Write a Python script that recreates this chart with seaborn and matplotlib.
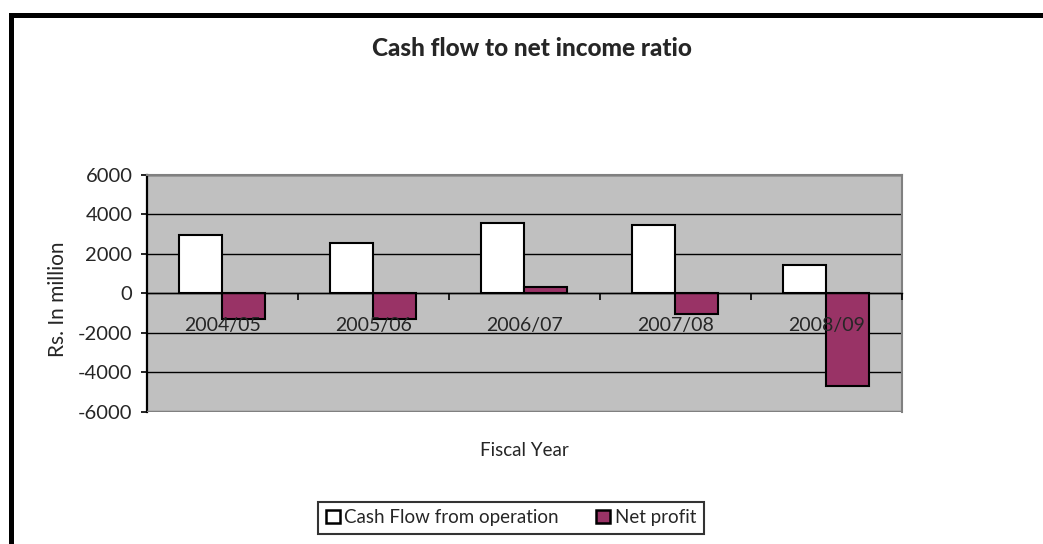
import pandas as pd
import matplotlib.pyplot as plt
from matplotlib.lines import Line2D
import seaborn as sns

sns.set_style('white')
plt.rcParams['font.family'] = ['Lato', 'DejaVu Sans']
plt.rcParams['axes.unicode_minus'] = False

# values (Rs. in million)
years = ["2004/05", "2005/06", "2006/07", "2007/08", "2008/09"]
cash_flow = [2930, 2540, 3570, 3440, 1440]
net_profit = [-1330, -1300, 290, -1050, -4690]
series_names = ["Cash Flow from operation", "Net profit"]
colors = ["white", "#993366"]

df = pd.DataFrame({
    "year": years * 2,
    "series": [series_names[0]] * len(years) + [series_names[1]] * len(years),
    "value": cash_flow + net_profit,
})

W, H = 1043, 544
fig = plt.figure(figsize=(W / 100, H / 100), dpi=100)
ax = fig.add_axes([146.7 / W, 1 - 411.7 / H, 755 / W, 237.2 / H])
ax.set_facecolor('#C0C0C0')

sns.barplot(data=df, x="year", y="value", hue="series", palette=colors,
            saturation=1, width=4 / 7, edgecolor='black', linewidth=1.5,
            ax=ax, zorder=2)

# y axis
ax.set_ylim(-6000, 6000)
ax.set_yticks(range(-6000, 6001, 2000))
ax.yaxis.grid(True, color='black', linewidth=1.0)
ax.set_axisbelow(True)
ax.tick_params(axis='y', direction='out', length=4.3, width=1.2, color='black',
               pad=6, labelsize=14.5, left=True)
ax.set_ylabel("")
ax.set_xlabel("")

# x axis on the zero line, labels drawn over the bars
ax.set_xlim(-0.5, len(years) - 0.5)
ax.spines['bottom'].set_position(('data', 0))
ax.spines['bottom'].set_color('black')
ax.spines['bottom'].set_linewidth(1.0)
ax.xaxis.set_zorder(3)
ax.set_xticks(range(len(years)))
ax.set_xticklabels(years)
ax.set_xticks([i - 0.5 for i in range(len(years) + 1)], minor=True)
ax.tick_params(axis='x', which='major', length=0, pad=17, labelsize=14)
ax.tick_params(axis='x', which='minor', direction='out', length=5, width=1.2,
               color='black', bottom=True)

ax.spines['left'].set_color('black')
ax.spines['left'].set_linewidth(1.6)
for side in ['top', 'right']:
    ax.spines[side].set_color('#808080')
    ax.spines[side].set_linewidth(1.5)
ax.axhline(-6000, color='#808080', linewidth=2.5, zorder=2.6)

handles, labels = ax.get_legend_handles_labels()
ax.get_legend().remove()

fig.text(532 / W, 1 - 49 / H, "Cash flow to net income ratio",
         ha='center', va='center', fontsize=17.5, fontweight='black')
fig.text(524 / W, 1 - 451 / H, "Fiscal Year", ha='center', va='center',
         fontsize=13.5)
fig.text(58 / W, 1 - 299 / H, "Rs. In million", ha='center', va='center',
         rotation=90, fontsize=15)

leg = fig.legend(handles, labels, loc='center',
                 bbox_to_anchor=(511 / W, 1 - 517.5 / H), ncol=2,
                 frameon=True, fancybox=False, edgecolor='black',
                 fontsize=13.5, handlelength=0.75, handleheight=0.75,
                 handletextpad=0.25, columnspacing=2.0, borderpad=0.4,
                 borderaxespad=0)
leg.get_frame().set_linewidth(1.5)
for h in leg.legend_handles:
    h.set_linewidth(1.8)

# outer chart frame (only left and top edges visible)
x0, y0 = 10.5 / W, 1 - 14.8 / H
fig.add_artist(Line2D([x0, x0], [0, y0], transform=fig.transFigure,
                      color='black', linewidth=3.6, solid_capstyle='projecting'))
fig.add_artist(Line2D([x0, 1], [y0, y0], transform=fig.transFigure,
                      color='black', linewidth=3.6, solid_capstyle='projecting'))

fig.savefig("out.png", dpi=100, facecolor='white')
